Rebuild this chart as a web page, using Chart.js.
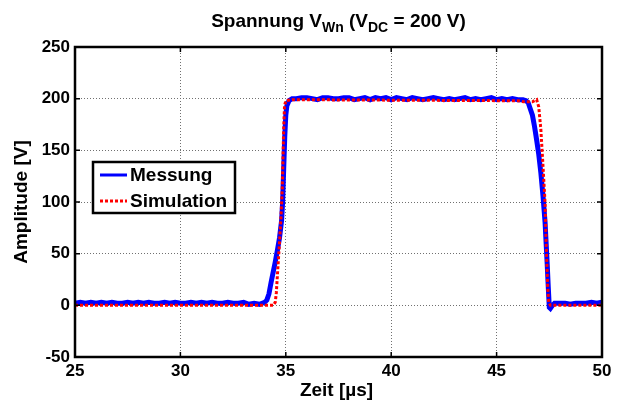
<!DOCTYPE html>
<html>
<head>
<meta charset="utf-8">
<script src="https://cdn.jsdelivr.net/npm/chart.js@4/dist/chart.umd.min.js"></script>
<style>
html,body{margin:0;padding:0;background:#fff;}
canvas{display:block;}
</style>
</head>
<body>
<canvas id="c" width="619" height="403"></canvas>
<script>
// ---- data ----
const xTicks = [25, 30, 35, 40, 45, 50];
const yTicks = [-50, 0, 50, 100, 150, 200, 250];

const messungTime = [
  25, 25.25, 25.5, 25.75, 26, 26.25, 26.5, 26.75, 27, 27.25, 27.5, 27.75, 28, 28.25, 28.5, 28.75,
  29, 29.25, 29.5, 29.75, 30, 30.25, 30.5, 30.75, 31, 31.25, 31.5, 31.75, 32, 32.25, 32.5, 32.75,
  33, 33.25, 33.5, 33.75, 34,
  34.1, 34.2, 34.3, 34.4, 34.5, 34.6, 34.7, 34.8, 34.85, 34.9, 34.95, 35.0, 35.05, 35.15, 35.3,
  35.5, 35.75, 36, 36.25, 36.5, 36.75, 37, 37.25, 37.5, 37.75, 38, 38.25, 38.5, 38.75, 39, 39.25,
  39.5, 39.75, 40, 40.25, 40.5, 40.75, 41, 41.25, 41.5, 41.75, 42, 42.25, 42.5, 42.75, 43, 43.25,
  43.5, 43.75, 44, 44.25, 44.5, 44.75, 45, 45.25, 45.5, 45.75, 46, 46.25,
  46.4, 46.5, 46.6, 46.7, 46.8, 46.9, 47.0, 47.1, 47.2, 47.3, 47.35, 47.4, 47.45, 47.5, 47.55, 47.65, 47.75,
  48, 48.25, 48.5, 48.75, 49, 49.25, 49.5, 49.75, 50
];
const messungVolt = [
  2, 3, 2, 3, 2, 3, 2, 3, 2, 2, 3, 2, 3, 2, 3, 2,
  2, 3, 2, 3, 2, 2, 3, 2, 3, 2, 3, 2, 2, 3, 2, 2,
  3, 1, 2, 1, 3,
  5, 11, 22, 32, 42, 53, 65, 82, 100, 132, 163, 184, 193, 198, 200,
  200, 201, 201, 200, 199, 201, 201, 200, 200, 201, 201, 199, 200, 201, 199, 201,
  200, 201, 199, 201, 200, 199, 201, 200, 199, 200, 201, 200, 199, 200, 199, 200,
  201, 199, 200, 199, 200, 201, 199, 200, 199, 200, 199, 199,
  198, 196, 190, 184, 173, 160, 146, 128, 106, 80, 60, 40, 18, -2, -3, 0, 2,
  2, 2, 1, 2, 2, 2, 3, 2, 3
];

const simulationTime = [
  25, 34.4, 34.5, 34.55, 34.62, 34.7, 34.77, 34.83, 34.87, 34.9, 34.94, 35.0, 35.3,
  46.0, 46.3, 46.7, 46.9, 47.0, 47.1, 47.2, 47.3, 47.36, 47.42, 47.47, 47.55, 50
];
const simulationVolt = [
  0, 0, 3, 12, 35, 60, 85, 112, 145, 172, 193, 198, 199,
  198, 197, 197, 199, 192, 170, 135, 99, 55, 20, 3, 0, 0
];

const seriesNames = ['Messung', 'Simulation'];
const titleParts = [['Spannung V', false], ['Wn', true], [' (V', false], ['DC', true], [' = 200 V)', false]];
const xLabel = 'Zeit [\u00b5s]';
const yLabel = 'Amplitude [V]';

// ---- chart ----
const FONT = '"Liberation Sans", Arial, Helvetica, sans-serif';
const toPts = (xs, ys) => xs.map((x, i) => ({x: x, y: ys[i]}));

const decor = {
  id: 'decor',
  afterDraw(chart) {
    const ctx = chart.ctx;
    const a = chart.chartArea;
    const xs = chart.scales.x, ys = chart.scales.y;
    ctx.save();
    // inward tick marks
    ctx.strokeStyle = '#000';
    ctx.lineWidth = 1.5;
    ctx.setLineDash([]);
    xTicks.forEach(v => {
      const px = xs.getPixelForValue(v);
      ctx.beginPath();
      ctx.moveTo(px, a.bottom); ctx.lineTo(px, a.bottom - 5);
      ctx.moveTo(px, a.top); ctx.lineTo(px, a.top + 5);
      ctx.stroke();
    });
    yTicks.forEach(v => {
      const py = ys.getPixelForValue(v);
      ctx.beginPath();
      ctx.moveTo(a.left, py); ctx.lineTo(a.left + 5, py);
      ctx.moveTo(a.right, py); ctx.lineTo(a.right - 5, py);
      ctx.stroke();
    });
    // frame
    ctx.lineWidth = 2.5;
    ctx.strokeRect(a.left, a.top, a.right - a.left, a.bottom - a.top);

    // legend
    const lx = a.left + 18, ly = a.top + 115, lw = 142, lh = 51;
    ctx.fillStyle = '#fff';
    ctx.fillRect(lx, ly, lw, lh);
    ctx.lineWidth = 2.5;
    ctx.strokeStyle = '#000';
    ctx.strokeRect(lx, ly, lw, lh);
    const dsets = chart.data.datasets;
    [0, 1].forEach(i => {
      const yy = ly + 13 + i * 26;
      ctx.beginPath();
      ctx.strokeStyle = dsets[i].borderColor;
      ctx.lineWidth = 3;
      ctx.setLineDash(dsets[i].borderDash || []);
      ctx.moveTo(lx + 7, yy); ctx.lineTo(lx + 34, yy);
      ctx.stroke();
      ctx.setLineDash([]);
      ctx.fillStyle = '#000';
      ctx.font = 'bold 19px ' + FONT;
      ctx.textBaseline = 'middle';
      ctx.textAlign = 'left';
      ctx.fillText(seriesNames[i], lx + 37, yy + 1);
    });

    // title with subscripts
    const mainF = 'bold 19px ' + FONT, subF = 'bold 14px ' + FONT;
    let total = 0;
    titleParts.forEach(p => { ctx.font = p[1] ? subF : mainF; total += ctx.measureText(p[0]).width; });
    let tx = (a.left + a.right) / 2 - total / 2;
    ctx.fillStyle = '#000';
    ctx.textBaseline = 'alphabetic';
    ctx.textAlign = 'left';
    titleParts.forEach(p => {
      ctx.font = p[1] ? subF : mainF;
      ctx.fillText(p[0], tx, p[1] ? 32 : 27);
      tx += ctx.measureText(p[0]).width;
    });

    // axis titles
    ctx.font = 'bold 19px ' + FONT;
    ctx.textAlign = 'center';
    ctx.textBaseline = 'middle';
    ctx.fillText(xLabel, (a.left + a.right) / 2 - 2, 391);
    ctx.translate(22, (a.top + a.bottom) / 2);
    ctx.rotate(-Math.PI / 2);
    ctx.fillText(yLabel, 0, 0);
    ctx.restore();
  }
};

new Chart(document.getElementById('c'), {
  type: 'line',
  data: {
    datasets: [
      {
        label: seriesNames[0],
        data: toPts(messungTime, messungVolt),
        borderColor: '#0000ff',
        borderWidth: 5,
        pointRadius: 0,
        tension: 0,
        order: 1
      },
      {
        label: seriesNames[1],
        data: toPts(simulationTime, simulationVolt),
        borderColor: '#ff0000',
        borderWidth: 3,
        borderDash: [3, 2],
        pointRadius: 0,
        tension: 0,
        order: 0
      }
    ]
  },
  options: {
    responsive: false,
    animation: false,
    devicePixelRatio: 1,
    layout: { padding: { top: 47, right: 17, left: 0, bottom: 0 } },
    plugins: { legend: { display: false }, tooltip: { enabled: false }, title: { display: false } },
    scales: {
      x: {
        type: 'linear',
        min: 25, max: 50,
        afterFit: s => { s.height = 46; },
        afterBuildTicks: s => { s.ticks = xTicks.map(v => ({value: v})); },
        ticks: { color: '#000', font: { family: FONT, size: 17, weight: 'bold' }, padding: 4, maxRotation: 0 },
        grid: { color: '#707070', lineWidth: 1, drawTicks: false, tickLength: 0 },
        border: { display: false, dash: [1, 2] }
      },
      y: {
        type: 'linear',
        min: -50, max: 250,
        afterFit: s => { s.width = 75; },
        afterBuildTicks: s => { s.ticks = yTicks.map(v => ({value: v})); },
        ticks: { color: '#000', font: { family: FONT, size: 17, weight: 'bold' }, padding: 5 },
        grid: { color: '#707070', lineWidth: 1, drawTicks: false, tickLength: 0 },
        border: { display: false, dash: [1, 2] }
      }
    }
  },
  plugins: [decor]
});
</script>
</body>
</html>
